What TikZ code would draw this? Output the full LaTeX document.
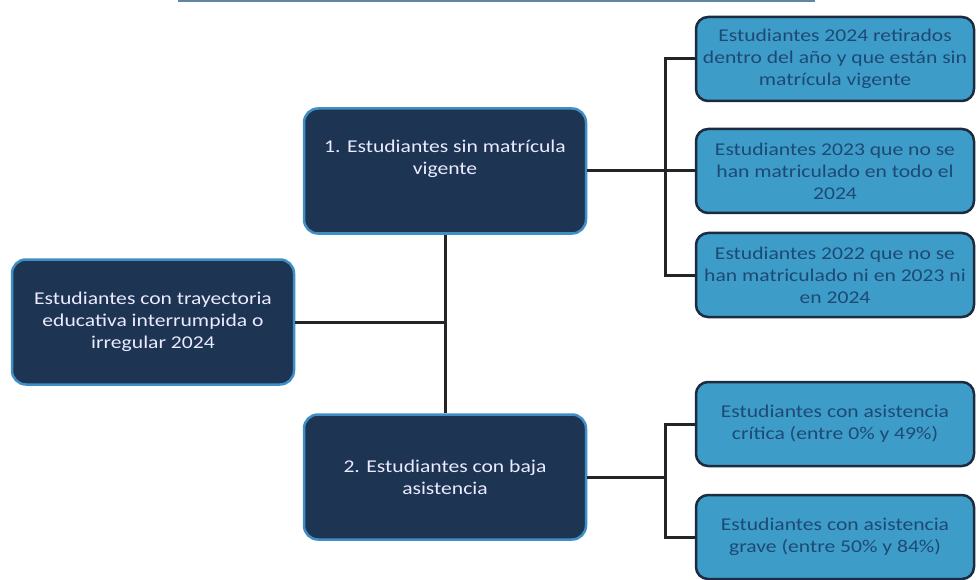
\documentclass[tikz,border=0pt]{standalone}
\usepackage{fontspec}
\setmainfont{Carlito}[FakeStretch=1.2]
\usetikzlibrary{positioning}
\definecolor{navy}{HTML}{1E3453}
\definecolor{glow}{HTML}{3F8FC4}
\definecolor{sky}{HTML}{3E9CC9}
\definecolor{edge}{HTML}{1B2B40}
\definecolor{ink}{HTML}{1D4A75}
\definecolor{wire}{HTML}{222428}
\tikzset{%
mainbox/.style={draw=glow,line width=2.5pt,fill=navy,rounded corners=14pt,text=white!92!blue,align=center,minimum width=282pt,minimum height=125pt,inner sep=0pt,font=\fontsize{18}{22}\selectfont},
subbox/.style={draw=edge,line width=2.5pt,fill=sky,rounded corners=12pt,text=ink,align=center,minimum width=278pt,minimum height=84pt,inner sep=0pt,font=\fontsize{18}{22}\selectfont},
link/.style={draw=wire,line width=3pt}
}

\begin{document}
\begin{tikzpicture}[x=1pt,y=-1pt]
    \useasboundingbox (0,0) rectangle (977,580);
    % cut-off box at the top
    \draw[glow!50!gray,line width=2.5pt] (178,1) -- (815,1);

    \node[mainbox] (root) at (153,322) {Estudiantes con trayectoria\\educativa interrumpida o\\irregular 2024};
    \node[mainbox] (b1) at (445,171) {1. Estudiantes sin matrícula\\vigente\\[6pt]};
    \node[mainbox] (b2) at (445,477) {2. Estudiantes con baja\\asistencia};

    \node[subbox] (sa) at (835,59) {Estudiantes 2024 retirados\\dentro del año y que están sin\\matrícula vigente};
    \node[subbox] (sb) at (835,171) {Estudiantes 2023 que no se\\han matriculado en todo el\\2024};
    \node[subbox] (sc) at (835,275) {Estudiantes 2022 que no se\\han matriculado ni en 2023 ni\\en 2024};
    \node[subbox] (sd) at (835,424) {Estudiantes con asistencia\\crítica (entre 0\% y 49\%)};
    \node[subbox] (se) at (835,537) {Estudiantes con asistencia\\grave (entre 50\% y 84\%)};

    \coordinate (j) at (445,322);
    \coordinate (ja) at (665,171);
    \coordinate (jb) at (665,477);

    \path[link] (b1) edge (b2)
                (root) edge (j)
                (b1) edge (ja)
                (b2) edge (jb)
                (ja) edge (sb);
    \draw[link] (sa.west) -| (ja) |- (sc.west);
    \draw[link] (sd.west) -| (jb) |- (se.west);
  \end{tikzpicture}
\end{document}
